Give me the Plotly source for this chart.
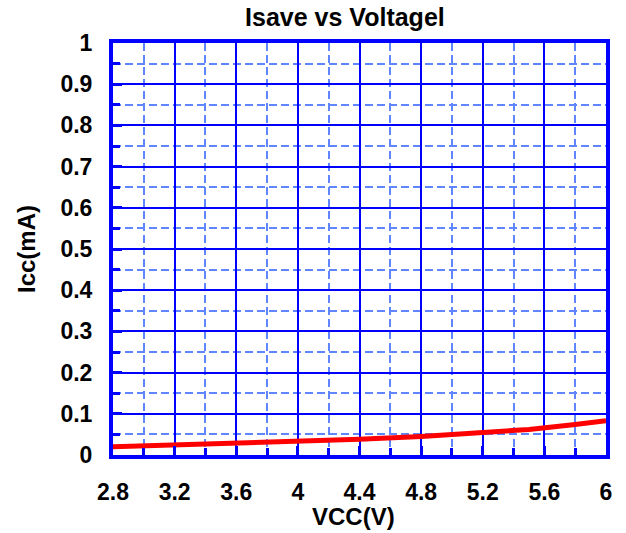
import plotly.graph_objects as go

vcc = [2.8, 3.0, 3.3, 3.6, 4.0, 4.4, 4.8, 5.0, 5.2, 5.5, 5.8, 6.0]
icc = [0.020, 0.022, 0.025, 0.028, 0.032, 0.038, 0.045, 0.049, 0.054, 0.062, 0.074, 0.083]

x_ticks = [2.8, 3.2, 3.6, 4.0, 4.4, 4.8, 5.2, 5.6, 6.0]
x_labels = ["2.8", "3.2", "3.6", "4", "4.4", "4.8", "5.2", "5.6", "6"]
y_ticks = [0, 0.1, 0.2, 0.3, 0.4, 0.5, 0.6, 0.7, 0.8, 0.9, 1]
y_labels = ["0", "0.1", "0.2", "0.3", "0.4", "0.5", "0.6", "0.7", "0.8", "0.9", "1"]

BLUE = "#0000FF"
DASH = "#5F85FF"
FONT = "Liberation Sans"

fig = go.Figure()
fig.add_trace(go.Scatter(x=vcc, y=icc, mode="lines",
                         line=dict(color="#FF0000", width=5), showlegend=False))

fig.update_layout(
    width=626, height=533,
    margin=dict(l=113, r=20, t=43, b=78),
    paper_bgcolor="white", plot_bgcolor="white",
    title=dict(text="<b>Isave vs Voltagel</b>", x=0.551, xanchor="center", xref="container",
               y=0.967, yanchor="middle", yref="container",
               font=dict(family=FONT, size=25, color="black")),
    font=dict(family=FONT, color="black"),
    annotations=[dict(text="<b>VCC(V)</b>", xref="paper", yref="paper", x=0.488, y=-0.15,
                      xanchor="center", yanchor="middle", showarrow=False,
                      font=dict(family=FONT, size=24, color="black"))],
)
fig.update_xaxes(
    range=[2.8, 6.0], tickmode="array", tickvals=x_ticks, ticktext=[f"<b>{t}</b>" for t in x_labels],
    tickfont=dict(family=FONT, size=23, color="black"),
    showgrid=True, gridcolor=BLUE, gridwidth=2,
    ticks="inside", ticklen=9, tickwidth=3, tickcolor=BLUE,
    ticklabelstandoff=13,
    showline=True, linecolor=BLUE, linewidth=4, mirror=True, zeroline=False,
    minor=dict(dtick=0.2, tick0=2.8, showgrid=True, gridcolor=DASH, griddash="8px,4px",
               gridwidth=1.5, ticks="inside", ticklen=7, tickwidth=3, tickcolor=BLUE),
)
fig.update_yaxes(
    range=[0, 1], tickmode="array", tickvals=y_ticks, ticktext=[f"<b>{t}</b>" for t in y_labels],
    tickfont=dict(family=FONT, size=23, color="black"),
    showgrid=True, gridcolor=BLUE, gridwidth=2,
    ticks="inside", ticklen=9, tickwidth=3, tickcolor=BLUE,
    ticklabelstandoff=12,
    showline=True, linecolor=BLUE, linewidth=4, mirror=True, zeroline=False,
    minor=dict(dtick=0.05, tick0=0, showgrid=True, gridcolor=DASH, griddash="8px,4px",
               gridwidth=1.5, ticks="inside", ticklen=7, tickwidth=3, tickcolor=BLUE),
    title=dict(text="<b>Icc(mA)</b>", font=dict(family=FONT, size=24, color="black"), standoff=19),
)

fig.write_html("out.html", config={"displayModeBar": False},
               post_script="document.body.style.margin='0';")
